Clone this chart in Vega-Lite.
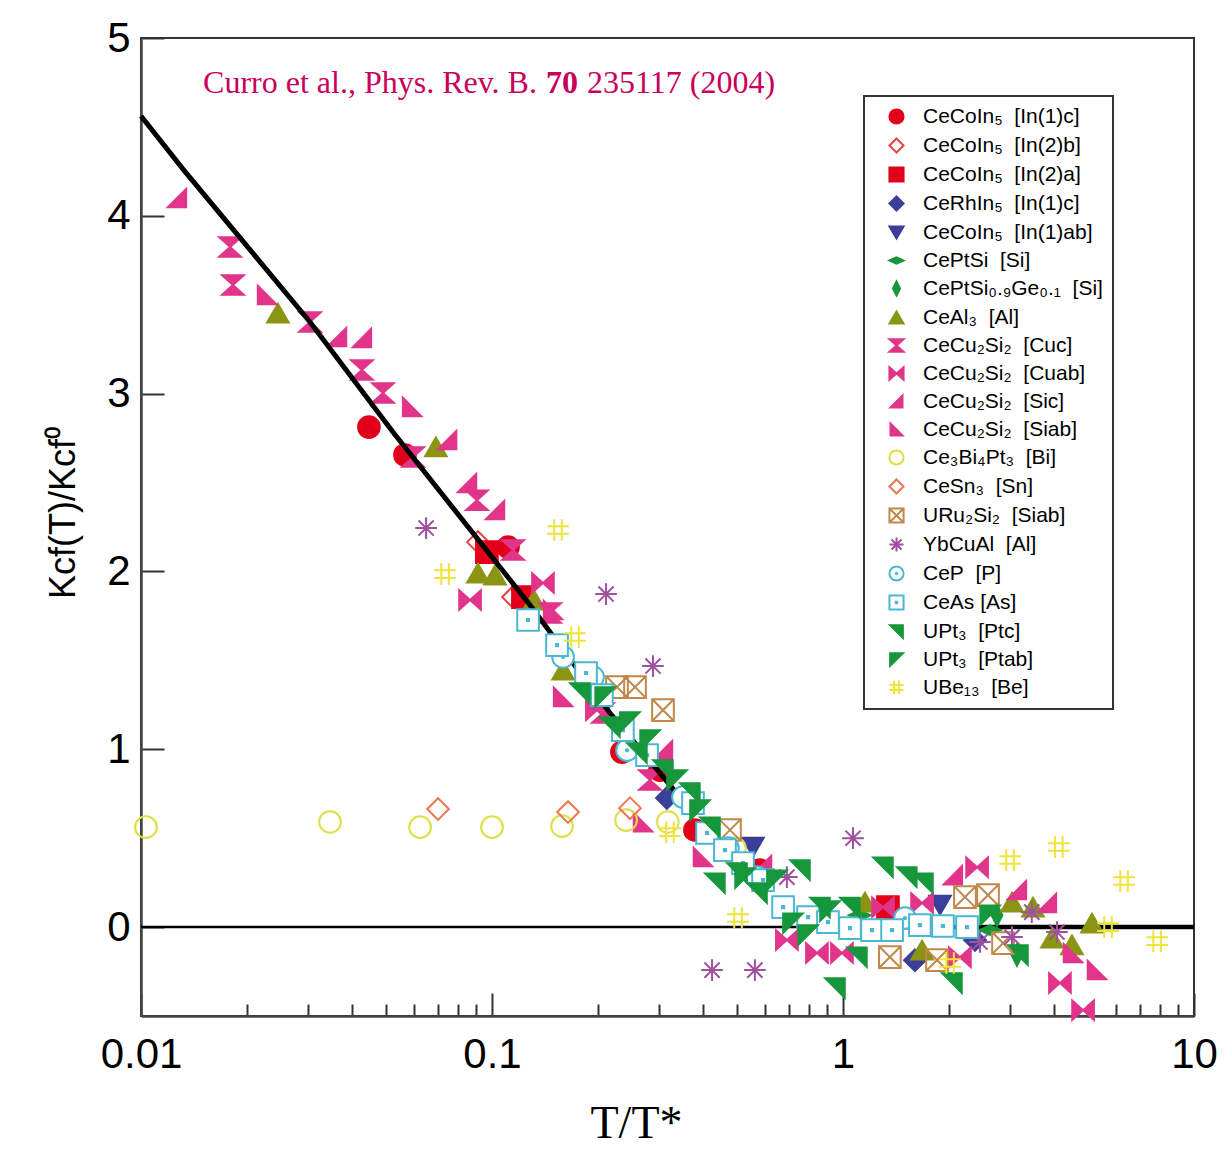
{
  "$schema": "https://vega.github.io/schema/vega-lite/v6.json",
  "width": 1053,
  "height": 978,
  "autosize": {"type": "none"},
  "padding": {"left": 141, "top": 38, "right": 38, "bottom": 134},
  "background": "white",
  "config": {
    "view": {"stroke": "#333", "strokeWidth": 2},
    "axis": {"grid": false, "domainColor": "#444", "domainWidth": 2.5, "tickColor": "#333", "tickWidth": 2, "labelFont": "Liberation Sans", "labelFontSize": 42, "labelColor": "black", "titleColor": "black"},
    "axisY": {"tickSize": -23, "labelPadding": 34, "titleFont": "Liberation Sans", "titleFontSize": 36, "titleFontWeight": "normal", "titlePadding": 24, "titleY": 474},
    "legend": {"orient": "none", "legendX": 723, "legendY": 58, "title": null, "labelFont": "Liberation Sans", "labelFontSize": 21, "labelColor": "black", "labelLimit": 400, "symbolSize": 200, "symbolStrokeWidth": 2, "strokeColor": "#333", "strokeWidth": 2, "fillColor": "white", "padding": 10, "rowPadding": 6, "labelOffset": 16, "symbolOffset": 12}
  },
  "datasets": {
    "names": [
      {"k": "a", "name": "CeCoIn₅\u00a0\u00a0[In(1)c]"},
      {"k": "b", "name": "CeCoIn₅\u00a0\u00a0[In(2)b]"},
      {"k": "c", "name": "CeCoIn₅\u00a0\u00a0[In(2)a]"},
      {"k": "d", "name": "CeRhIn₅\u00a0\u00a0[In(1)c]"},
      {"k": "e", "name": "CeCoIn₅\u00a0\u00a0[In(1)ab]"},
      {"k": "f", "name": "CePtSi\u00a0\u00a0[Si]"},
      {"k": "g", "name": "CePtSi₀.₉Ge₀.₁\u00a0\u00a0[Si]"},
      {"k": "h", "name": "CeAl₃\u00a0\u00a0[Al]"},
      {"k": "i", "name": "\u00a0CeCu₂Si₂\u00a0\u00a0[Cuc]"},
      {"k": "j", "name": "CeCu₂Si₂\u00a0\u00a0[Cuab]"},
      {"k": "k", "name": "CeCu₂Si₂\u00a0\u00a0[Sic]"},
      {"k": "l", "name": "CeCu₂Si₂\u00a0\u00a0[Siab]"},
      {"k": "m", "name": "Ce₃Bi₄Pt₃\u00a0\u00a0[Bi]"},
      {"k": "n", "name": "CeSn₃\u00a0\u00a0[Sn]"},
      {"k": "o", "name": "URu₂Si₂\u00a0\u00a0[Siab]"},
      {"k": "p", "name": "YbCuAl\u00a0\u00a0[Al]"},
      {"k": "q", "name": "CeP\u00a0\u00a0[P]"},
      {"k": "r", "name": "CeAs [As]"},
      {"k": "s", "name": "UPt₃\u00a0\u00a0[Ptc]"},
      {"k": "t", "name": "UPt₃\u00a0\u00a0[Ptab]"},
      {"k": "u", "name": "UBe₁₃\u00a0\u00a0[Be]"}
    ],
    "pts": [
      {"k":"a","x":0.0446,"y":2.812},{"k":"a","x":0.0565,"y":2.655},{"k":"a","x":0.1111,"y":2.137},{"k":"a","x":0.2345,"y":0.984},{"k":"a","x":0.301,"y":0.883},{"k":"a","x":0.3785,"y":0.546},{"k":"a","x":0.58,"y":0.32},
      {"k":"b","x":0.0912,"y":2.165},{"k":"b","x":0.1148,"y":1.856},
      {"k":"c","x":0.0967,"y":2.109},{"k":"c","x":0.1225,"y":1.856},{"k":"c","x":1.343,"y":0.112},
      {"k":"d","x":0.315,"y":0.726},{"k":"d","x":1.603,"y":-0.186},{"k":"d","x":2.377,"y":-0.073},
      {"k":"e","x":0.554,"y":0.45},{"k":"e","x":1.89,"y":0.124},
      {"k":"f","x":1.117,"y":0.067},{"k":"f","x":2.624,"y":-0.017},
      {"k":"g","x":3.131,"y":-0.157},{"k":"g","x":2.746,"y":0.067},
      {"k":"h","x":0.02455,"y":3.453},{"k":"h","x":0.0692,"y":2.70},{"k":"h","x":0.0912,"y":1.991},{"k":"h","x":0.102,"y":1.98},{"k":"h","x":0.1318,"y":1.839},{"k":"h","x":0.1594,"y":1.445},{"k":"h","x":1.155,"y":0.141},{"k":"h","x":3.03,"y":0.141},{"k":"h","x":3.478,"y":0.112},{"k":"h","x":3.94,"y":-0.062},{"k":"h","x":4.49,"y":-0.10},{"k":"h","x":5.12,"y":0.022},{"k":"h","x":1.68,"y":-0.13},
      {"k":"i","x":0.01794,"y":3.825},{"k":"i","x":0.01828,"y":3.611},{"k":"i","x":0.0303,"y":3.403},{"k":"i","x":0.0426,"y":3.133},{"k":"i","x":0.0489,"y":3.003},{"k":"i","x":0.0596,"y":2.643},{"k":"i","x":0.0906,"y":2.40},{"k":"i","x":0.1148,"y":2.12},{"k":"i","x":0.1463,"y":1.766},{"k":"i","x":0.207,"y":1.204},{"k":"i","x":0.2818,"y":0.827},
      {"k":"j","x":0.0866,"y":1.84},{"k":"j","x":0.1397,"y":1.935},{"k":"j","x":0.199,"y":1.22},{"k":"j","x":0.692,"y":-0.073},{"k":"j","x":0.843,"y":-0.146},{"k":"j","x":0.993,"y":-0.146},{"k":"j","x":1.30,"y":0.112},{"k":"j","x":1.68,"y":0.135},{"k":"j","x":2.41,"y":0.337},{"k":"j","x":4.15,"y":-0.315},{"k":"j","x":4.83,"y":-0.467},{"k":"j","x":2.153,"y":-0.169},
      {"k":"k","x":0.01266,"y":4.10},{"k":"k","x":0.03618,"y":3.318},{"k":"k","x":0.0426,"y":3.313},{"k":"k","x":0.0745,"y":2.739},{"k":"k","x":0.0849,"y":2.497},{"k":"k","x":0.102,"y":2.345},{"k":"k","x":0.307,"y":0.995},{"k":"k","x":0.588,"y":0.349},{"k":"k","x":2.056,"y":0.292},{"k":"k","x":3.13,"y":0.208},{"k":"k","x":3.81,"y":0.135},
      {"k":"l","x":0.02286,"y":3.555},{"k":"l","x":0.0592,"y":2.925},{"k":"l","x":0.1492,"y":1.783},{"k":"l","x":0.1594,"y":1.294},{"k":"l","x":0.2692,"y":0.59},{"k":"l","x":0.399,"y":0.394},{"k":"l","x":4.52,"y":-0.146},{"k":"l","x":5.29,"y":-0.242},
      {"k":"m","x":0.01033,"y":0.562},{"k":"m","x":0.03455,"y":0.591},{"k":"m","x":0.0624,"y":0.562},{"k":"m","x":0.1,"y":0.562},{"k":"m","x":0.1583,"y":0.568},{"k":"m","x":0.241,"y":0.602},{"k":"m","x":0.317,"y":0.591},{"k":"m","x":0.492,"y":0.444},
      {"k":"n","x":0.0702,"y":0.664},{"k":"n","x":0.1647,"y":0.647},{"k":"n","x":0.2473,"y":0.669},
      {"k":"o","x":0.227,"y":1.35},{"k":"o","x":0.2555,"y":1.35},{"k":"o","x":0.307,"y":1.22},{"k":"o","x":0.4764,"y":0.546},{"k":"o","x":1.36,"y":-0.169},{"k":"o","x":2.226,"y":0.169},{"k":"o","x":2.589,"y":0.18},{"k":"o","x":2.857,"y":-0.09},{"k":"o","x":1.853,"y":-0.186},
      {"k":"p","x":0.0649,"y":2.244},{"k":"p","x":0.2113,"y":1.873},{"k":"p","x":0.2875,"y":1.468},{"k":"p","x":0.4236,"y":-0.242},{"k":"p","x":0.561,"y":-0.242},{"k":"p","x":1.068,"y":0.50},{"k":"p","x":0.692,"y":0.281},{"k":"p","x":3.45,"y":0.084},{"k":"p","x":4.07,"y":-0.028},{"k":"p","x":3.03,"y":-0.056},{"k":"p","x":2.455,"y":-0.084},
      {"k":"q","x":0.1594,"y":1.519},{"k":"q","x":0.194,"y":1.406},{"k":"q","x":0.2425,"y":0.995},{"k":"q","x":0.35,"y":0.731},{"k":"q","x":0.47,"y":0.444},{"k":"q","x":0.569,"y":0.281},{"k":"q","x":1.502,"y":0.051},
      {"k":"r","x":0.1267,"y":1.727},{"k":"r","x":0.1532,"y":1.586},{"k":"r","x":0.1853,"y":1.429},{"k":"r","x":0.2056,"y":1.305},{"k":"r","x":0.236,"y":1.108},{"k":"r","x":0.2765,"y":0.967},{"k":"r","x":0.3738,"y":0.697},{"k":"r","x":0.41,"y":0.529},{"k":"r","x":0.461,"y":0.433},{"k":"r","x":0.519,"y":0.36},{"k":"r","x":0.592,"y":0.264},{"k":"r","x":0.675,"y":0.112},{"k":"r","x":0.795,"y":0.056},{"k":"r","x":0.906,"y":0.028},{"k":"r","x":1.047,"y":-0.006},{"k":"r","x":1.21,"y":-0.017},{"k":"r","x":1.38,"y":-0.017},{"k":"r","x":1.656,"y":0.011},{"k":"r","x":1.926,"y":0.006},{"k":"r","x":2.256,"y":0},
      {"k":"s","x":0.1781,"y":1.316},{"k":"s","x":0.2168,"y":1.125},{"k":"s","x":0.2588,"y":0.979},{"k":"s","x":0.307,"y":0.883},{"k":"s","x":0.3664,"y":0.754},{"k":"s","x":0.418,"y":0.562},{"k":"s","x":0.4317,"y":0.247},{"k":"s","x":0.499,"y":0.304},{"k":"s","x":0.569,"y":0.191},{"k":"s","x":0.7542,"y":0.321},{"k":"s","x":1.096,"y":-0.169},{"k":"s","x":1.30,"y":0.337},{"k":"s","x":1.52,"y":0.281},{"k":"s","x":1.69,"y":0.247},{"k":"s","x":0.949,"y":-0.343},{"k":"s","x":2.044,"y":-0.315},{"k":"s","x":3.152,"y":-0.157},{"k":"s","x":0.86,"y":0.11},{"k":"s","x":1.047,"y":0.11},
      {"k":"t","x":0.21,"y":1.294},{"k":"t","x":0.247,"y":1.153},{"k":"t","x":0.282,"y":1.052},{"k":"t","x":0.3365,"y":0.827},{"k":"t","x":0.3913,"y":0.658},{"k":"t","x":0.526,"y":0.276},{"k":"t","x":0.648,"y":0.264},{"k":"t","x":0.72,"y":0.022},{"k":"t","x":0.795,"y":-0.045},{"k":"t","x":2.624,"y":0.067},{"k":"t","x":0.918,"y":0.09},
      {"k":"u","x":0.1542,"y":2.233},{"k":"u","x":0.0735,"y":1.985},{"k":"u","x":0.1724,"y":1.631},{"k":"u","x":0.3214,"y":0.534},{"k":"u","x":0.5023,"y":0.051},{"k":"u","x":2.018,"y":-0.202},{"k":"u","x":2.992,"y":0.377},{"k":"u","x":4.12,"y":0.45},{"k":"u","x":5.69,"y":0},{"k":"u","x":6.32,"y":0.259},{"k":"u","x":7.85,"y":-0.079}
    ],
    "fit": [
      {"x": 0.01, "y": 4.561}, {"x": 0.01317, "y": 4.263}, {"x": 0.0303, "y": 3.403}, {"x": 0.0522, "y": 2.784}, {"x": 0.1283, "y": 1.811}, {"x": 0.2168, "y": 1.204}, {"x": 0.3432, "y": 0.731}
    ],
    "zero": [{"x": 1, "y": 0}, {"x": 10, "y": 0}],
    "one": [{}]
  },
  "resolve": {"axis": {"x": "independent"}},
  "layer": [
    {
      "data": {"name": "one"},
      "mark": {"type": "rule", "color": "black", "strokeWidth": 2.5},
      "encoding": {"y": {"datum": 0, "type": "quantitative", "scale": {"domain": [-0.5, 5], "nice": false, "zero": false}, "axis": {"values": [0, 1, 2, 3, 4, 5], "title": "Kcf(T)/Kcf⁰"}}}
    },
    {
      "data": {"name": "zero"},
      "mark": {"type": "line", "color": "black", "strokeWidth": 4.5},
      "encoding": {
        "x": {"field": "x", "type": "quantitative", "scale": {"type": "log", "domain": [0.01, 10], "nice": false},
              "axis": {"orient": "bottom", "values": [0.02,0.03,0.04,0.05,0.06,0.07,0.08,0.09,0.2,0.3,0.4,0.5,0.6,0.7,0.8,0.9,2,3,4,5,6,7,8,9], "tickSize": -12, "labels": false, "domain": false, "title": null}},
        "y": {"field": "y", "type": "quantitative", "scale": {"domain": [-0.5, 5], "nice": false, "zero": false}, "axis": {"values": [0, 1, 2, 3, 4, 5], "title": "Kcf(T)/Kcf⁰"}}
      }
    },
    {
      "data": {"name": "pts"},
      "transform": [
        {"filter": {"field": "k", "oneOf": ["a","b","c","d","e","f","g","h","i","j","k","l","m","n","o","p"]}},
        {"lookup": "k", "from": {"data": {"name": "names"}, "key": "k", "fields": ["name"]}}
      ],
      "mark": {"type": "point", "opacity": 1, "strokeWidth": 2, "size": 470},
      "encoding": {
        "x": {"field": "x", "type": "quantitative", "scale": {"type": "log", "domain": [0.01, 10], "nice": false},
              "axis": {"orient": "bottom", "values": [0.01, 0.1, 1, 10], "format": "~g", "ticks": true, "tickSize": -23, "labelPadding": 41, "labelFlush": false, "title": "T/T*", "titleFont": "Liberation Serif", "titleFontSize": 46, "titleFontWeight": "normal", "titlePadding": 26, "titleX": 495}},
        "y": {"field": "y", "type": "quantitative", "scale": {"domain": [-0.5, 5], "nice": false, "zero": false}, "axis": {"values": [0, 1, 2, 3, 4, 5], "title": "Kcf(T)/Kcf⁰"}},
        "shape": {"field": "name", "type": "nominal",
          "scale": {"domain": ["CeCoIn₅\u00a0\u00a0[In(1)c]","CeCoIn₅\u00a0\u00a0[In(2)b]","CeCoIn₅\u00a0\u00a0[In(2)a]","CeRhIn₅\u00a0\u00a0[In(1)c]","CeCoIn₅\u00a0\u00a0[In(1)ab]","CePtSi\u00a0\u00a0[Si]","CePtSi₀.₉Ge₀.₁\u00a0\u00a0[Si]","CeAl₃\u00a0\u00a0[Al]","\u00a0CeCu₂Si₂\u00a0\u00a0[Cuc]","CeCu₂Si₂\u00a0\u00a0[Cuab]","CeCu₂Si₂\u00a0\u00a0[Sic]","CeCu₂Si₂\u00a0\u00a0[Siab]","Ce₃Bi₄Pt₃\u00a0\u00a0[Bi]","CeSn₃\u00a0\u00a0[Sn]","URu₂Si₂\u00a0\u00a0[Siab]","YbCuAl\u00a0\u00a0[Al]","CeP\u00a0\u00a0[P]","CeAs [As]","UPt₃\u00a0\u00a0[Ptc]","UPt₃\u00a0\u00a0[Ptab]","UBe₁₃\u00a0\u00a0[Be]"],
            "range": ["circle","diamond","square","diamond","triangle-down","M-1,0L0,-0.45L1,0L0,0.45Z","M0,-1L0.5,0L0,1L-0.5,0Z","triangle-up","M-1,-0.9L1,-0.9L-1,0.9L1,0.9Z","M-1,-0.9L1,0.9L1,-0.9L-1,0.9Z","M-0.85,0.85L0.85,0.85L0.85,-0.85Z","M-0.85,-0.85L-0.85,0.85L0.85,0.85Z","circle","diamond","M-1,-1L1,-1L1,1L-1,1ZM-1,-1L1,1M1,-1L-1,1","M-1,0L1,0M0,-1L0,1M-0.7,-0.7L0.7,0.7M0.7,-0.7L-0.7,0.7","M1,0A1,1,0,1,1,-1,0A1,1,0,1,1,1,0ZM0.1,0A0.1,0.1,0,1,1,-0.1,0A0.1,0.1,0,1,1,0.1,0Z","M-1,-1L1,-1L1,1L-1,1ZM-0.1,-0.1L0.1,-0.1L0.1,0.1L-0.1,0.1Z","M-0.9,-0.9L0.9,-0.9L0.9,0.9Z","M-0.9,-0.9L0.9,-0.9L-0.9,0.9Z","M-0.35,-1L-0.35,1M0.35,-1L0.35,1M-1,-0.35L1,-0.35M-1,0.35L1,0.35"]}},
        "fill": {"field": "name", "type": "nominal",
          "scale": {"domain": ["CeCoIn₅\u00a0\u00a0[In(1)c]","CeCoIn₅\u00a0\u00a0[In(2)b]","CeCoIn₅\u00a0\u00a0[In(2)a]","CeRhIn₅\u00a0\u00a0[In(1)c]","CeCoIn₅\u00a0\u00a0[In(1)ab]","CePtSi\u00a0\u00a0[Si]","CePtSi₀.₉Ge₀.₁\u00a0\u00a0[Si]","CeAl₃\u00a0\u00a0[Al]","\u00a0CeCu₂Si₂\u00a0\u00a0[Cuc]","CeCu₂Si₂\u00a0\u00a0[Cuab]","CeCu₂Si₂\u00a0\u00a0[Sic]","CeCu₂Si₂\u00a0\u00a0[Siab]","Ce₃Bi₄Pt₃\u00a0\u00a0[Bi]","CeSn₃\u00a0\u00a0[Sn]","URu₂Si₂\u00a0\u00a0[Siab]","YbCuAl\u00a0\u00a0[Al]","CeP\u00a0\u00a0[P]","CeAs [As]","UPt₃\u00a0\u00a0[Ptc]","UPt₃\u00a0\u00a0[Ptab]","UBe₁₃\u00a0\u00a0[Be]"],
            "range": ["#e2001a","transparent","#e2001a","#3b3f99","#3b3f99","#16973c","#16973c","#8c9414","#e0358a","#e0358a","#e0358a","#e0358a","transparent","transparent","transparent","transparent","white","white","#16973c","#16973c","transparent"]}},
        "stroke": {"field": "name", "type": "nominal",
          "scale": {"domain": ["CeCoIn₅\u00a0\u00a0[In(1)c]","CeCoIn₅\u00a0\u00a0[In(2)b]","CeCoIn₅\u00a0\u00a0[In(2)a]","CeRhIn₅\u00a0\u00a0[In(1)c]","CeCoIn₅\u00a0\u00a0[In(1)ab]","CePtSi\u00a0\u00a0[Si]","CePtSi₀.₉Ge₀.₁\u00a0\u00a0[Si]","CeAl₃\u00a0\u00a0[Al]","\u00a0CeCu₂Si₂\u00a0\u00a0[Cuc]","CeCu₂Si₂\u00a0\u00a0[Cuab]","CeCu₂Si₂\u00a0\u00a0[Sic]","CeCu₂Si₂\u00a0\u00a0[Siab]","Ce₃Bi₄Pt₃\u00a0\u00a0[Bi]","CeSn₃\u00a0\u00a0[Sn]","URu₂Si₂\u00a0\u00a0[Siab]","YbCuAl\u00a0\u00a0[Al]","CeP\u00a0\u00a0[P]","CeAs [As]","UPt₃\u00a0\u00a0[Ptc]","UPt₃\u00a0\u00a0[Ptab]","UBe₁₃\u00a0\u00a0[Be]"],
            "range": ["#e2001a","#e8453c","#e2001a","#3b3f99","#3b3f99","#16973c","#16973c","#8c9414","#e0358a","#e0358a","#e0358a","#e0358a","#dede45","#e8784e","#c0884a","#a050a0","#4ab8d2","#4ab8d2","#16973c","#16973c","#f0e43a"]}}
      }
    },
    {
      "data": {"name": "fit"},
      "mark": {"type": "line", "color": "black", "strokeWidth": 5},
      "encoding": {
        "x": {"field": "x", "type": "quantitative", "scale": {"type": "log", "domain": [0.01, 10], "nice": false}, "axis": null},
        "y": {"field": "y", "type": "quantitative", "scale": {"domain": [-0.5, 5], "nice": false, "zero": false}, "axis": {"values": [0, 1, 2, 3, 4, 5], "title": "Kcf(T)/Kcf⁰"}}
      }
    },
    {
      "data": {"name": "pts"},
      "transform": [
        {"filter": {"field": "k", "oneOf": ["q","r","s","t","u"]}},
        {"lookup": "k", "from": {"data": {"name": "names"}, "key": "k", "fields": ["name"]}}
      ],
      "mark": {"type": "point", "opacity": 1, "strokeWidth": 2, "size": 470},
      "encoding": {
        "x": {"field": "x", "type": "quantitative", "scale": {"type": "log", "domain": [0.01, 10], "nice": false}, "axis": null},
        "y": {"field": "y", "type": "quantitative", "scale": {"domain": [-0.5, 5], "nice": false, "zero": false}, "axis": {"values": [0, 1, 2, 3, 4, 5], "title": "Kcf(T)/Kcf⁰"}},
        "shape": {"field": "name", "type": "nominal"},
        "fill": {"field": "name", "type": "nominal"},
        "stroke": {"field": "name", "type": "nominal"}
      }
    },
    {
      "data": {"name": "one"},
      "mark": {"type": "text", "font": "Liberation Serif", "fontSize": 32, "color": "#c8005c", "align": "right", "baseline": "alphabetic", "text": "Curro et al., Phys. Rev. B."},
      "encoding": {"x": {"datum": 0.1343, "type": "quantitative", "axis": null}, "y": {"datum": 4.69, "type": "quantitative", "axis": {"values": [0, 1, 2, 3, 4, 5], "title": "Kcf(T)/Kcf⁰"}}}
    },
    {
      "data": {"name": "one"},
      "mark": {"type": "text", "font": "Liberation Serif", "fontSize": 32, "fontWeight": "bold", "color": "#c8005c", "align": "center", "baseline": "alphabetic", "text": "70"},
      "encoding": {"x": {"datum": 0.1583, "type": "quantitative", "axis": null}, "y": {"datum": 4.69, "type": "quantitative", "axis": {"values": [0, 1, 2, 3, 4, 5], "title": "Kcf(T)/Kcf⁰"}}}
    },
    {
      "data": {"name": "one"},
      "mark": {"type": "text", "font": "Liberation Serif", "fontSize": 32, "color": "#c8005c", "align": "left", "baseline": "alphabetic", "text": "235117 (2004)"},
      "encoding": {"x": {"datum": 0.1865, "type": "quantitative", "axis": null}, "y": {"datum": 4.69, "type": "quantitative", "axis": {"values": [0, 1, 2, 3, 4, 5], "title": "Kcf(T)/Kcf⁰"}}}
    }
  ]
}
